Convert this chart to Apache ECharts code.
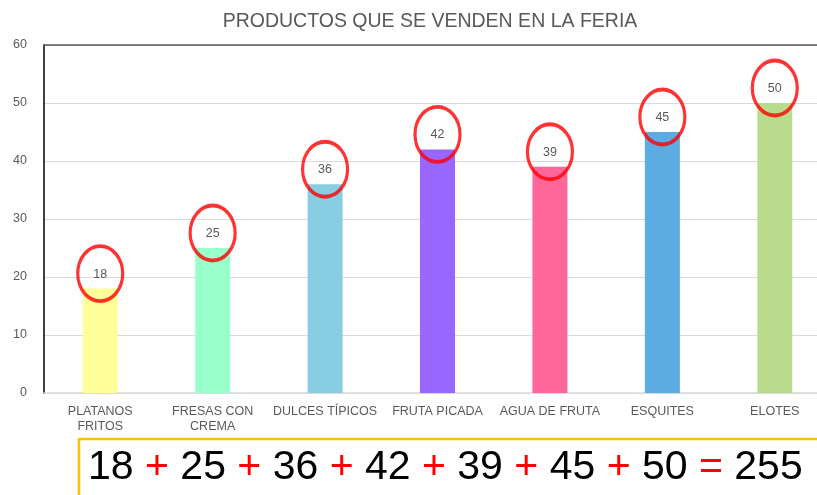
<!DOCTYPE html>
<html lang="es">

<head>
    <meta charset="UTF-8">
    <title>Productos que se venden en la feria</title>
    <style>
        html, body {
            margin: 0;
            padding: 0;
            background: #fff;
        }

        #demo {
            width: 817px;
            height: 495px;
        }
    </style>
</head>

<body>
    <div id="demo"></div>
</body>
<script src="https://cdn.jsdelivr.net/npm/echarts@6/dist/echarts.min.js"></script>
<script>
    // datos
    const productos = ['PLATANOS\nFRITOS', 'FRESAS CON\nCREMA', 'DULCES TÍPICOS', 'FRUTA PICADA', 'AGUA DE FRUTA', 'ESQUITES', 'ELOTES'];
    const ventas = [18, 25, 36, 42, 39, 45, 50];
    const colores = ['#FFFF99', '#99FFCC', '#87CEE3', '#9966FF', '#FF6699', '#5DABE3', '#B9DB8E'];
    const ticksY = [0, 10, 20, 30, 40, 50, 60];

    const gris = '#595959';
    const suma = ventas.reduce((a, b) => a + b, 0);

    // texto de la suma con los signos en rojo
    let partes = [];
    ventas.forEach((v, i) => {
        partes.push(`{n|${v}}`);
        if (i < ventas.length - 1) partes.push('{s|+}');
    });
    const ecuacion = partes.join(' ') + ' {s|=} ' + `{n|${suma}}`;

    var demo = echarts.init(document.getElementById('demo'));
    option = {
        animation: false,
        title: {
            text: 'PRODUCTOS QUE SE VENDEN EN LA FERIA',
            left: 425,
            top: 7,
            textAlign: 'center',
            textStyle: {
                color: gris,
                fontSize: 19.5,
                fontWeight: 'normal',
                fontFamily: 'Liberation Sans'
            }
        },
        grid: {
            left: 44,
            right: -14,
            top: 45,
            bottom: 102,
            outerBoundsMode: 'none'
        },
        xAxis: [{
            type: 'category',
            data: productos,
            axisLine: { lineStyle: { color: '#D9D9D9', width: 1.5 } },
            axisTick: { show: false },
            axisLabel: {
                color: gris,
                fontSize: 12.5,
                fontFamily: 'Liberation Sans',
                lineHeight: 15,
                margin: 11,
                interval: 0
            }
        }, {
            // linea de arriba
            type: 'category',
            position: 'top',
            data: productos,
            axisLine: { lineStyle: { color: '#555', width: 1.5 } },
            axisTick: { show: false },
            axisLabel: { show: false }
        }],
        yAxis: {
            type: 'value',
            min: ticksY[0],
            max: ticksY[ticksY.length - 1],
            interval: 10,
            axisLine: { show: true, lineStyle: { color: '#000', width: 1.5 } },
            axisTick: { show: false },
            axisLabel: {
                color: gris,
                fontSize: 12.5,
                fontFamily: 'Liberation Sans',
                margin: 17
            },
            splitLine: { lineStyle: { color: '#D9D9D9', width: 1 } }
        },
        series: [{
            type: 'bar',
            data: ventas.map((v, i) => ({ value: v, itemStyle: { color: colores[i] } })),
            barWidth: 35,
            label: {
                show: true,
                position: 'top',
                distance: 8,
                color: gris,
                fontSize: 12.5,
                fontFamily: 'Liberation Sans'
            }
        }, {
            // circulos rojos
            type: 'scatter',
            data: ventas,
            symbol: 'circle',
            symbolSize: [45, 55],
            symbolOffset: [0, -15],
            itemStyle: {
                color: 'rgba(0,0,0,0)',
                borderColor: '#FF0000',
                borderWidth: 3.5
            },
            z: 5
        }],
        graphic: [{
            type: 'rect',
            shape: { x: 79, y: 439, width: 760, height: 80 },
            style: { fill: '#fff', stroke: '#FFC000', lineWidth: 2.5 }
        }, {
            type: 'text',
            x: 88,
            y: 468,
            style: {
                text: ecuacion,
                verticalAlign: 'middle',
                fontFamily: 'Liberation Sans',
                fontSize: 41,
                rich: {
                    n: { fontSize: 41, fill: '#000', fontFamily: 'Liberation Sans' },
                    s: { fontSize: 41, fill: '#FF0000', fontFamily: 'Liberation Sans' }
                }
            }
        }]
    };
    demo.setOption(option);
</script>

</html>
